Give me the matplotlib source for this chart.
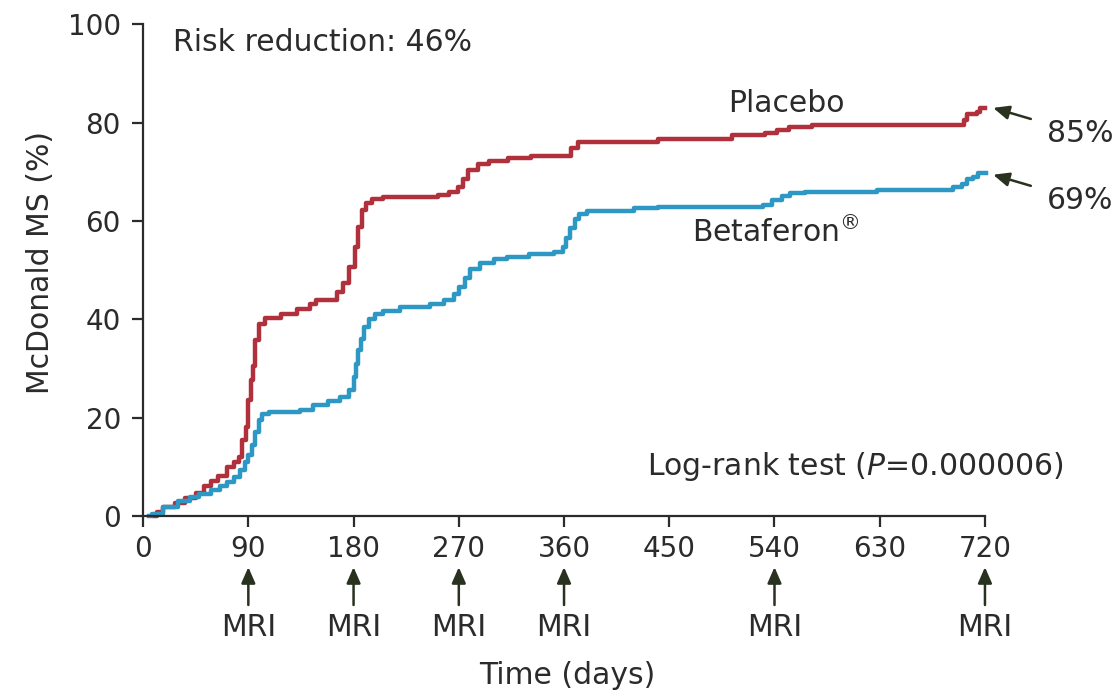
import matplotlib

matplotlib.use("Agg")
import matplotlib.pyplot as plt

# Kaplan-Meier style step data (day, % converted to McDonald MS)
placebo_days = [9, 12, 17, 27, 36, 45, 52, 58, 64, 72, 78, 82, 85, 88, 90, 92, 94, 96, 99,
                104, 118, 132, 143, 148, 166, 171, 176, 181, 184, 187, 191, 196, 205, 252,
                262, 269, 274, 278, 286, 296, 312, 332, 366, 372, 440, 504, 532, 542, 552,
                572, 702, 705, 713, 716, 720]
placebo_pct = [0.0, 0.8, 1.9, 2.6, 3.6, 4.6, 6.0, 7.2, 8.2, 10.0, 11.0, 12.0, 15.4, 18.0, 23.6,
               27.6, 30.5, 35.8, 39.0, 40.2, 41.0, 42.0, 43.2, 44.0, 45.6, 47.3, 50.7, 54.7,
               58.8, 62.2, 63.6, 64.5, 64.9, 65.3, 65.8, 67.0, 68.6, 70.3, 71.5, 72.2, 72.8,
               73.2, 74.8, 76.1, 76.6, 77.4, 77.8, 78.5, 79.1, 79.5, 80.6, 81.8, 82.2, 82.9,
               82.9]

beta_days = [5, 8, 17, 30, 40, 48, 58, 66, 72, 78, 83, 87, 90, 93, 96, 99, 102, 108, 134, 145,
             158, 168, 176, 180, 182, 184, 186, 189, 193, 198, 205, 220, 245, 257, 266, 270,
             275, 280, 288, 300, 311, 330, 351, 359, 362, 365, 369, 373, 380, 420, 440, 530,
             538, 546, 553, 566, 628, 693, 700, 705, 710, 714, 721]
beta_pct = [0.0, 0.5, 1.9, 3.0, 3.8, 4.4, 5.3, 6.0, 7.0, 8.0, 9.3, 11.0, 12.5, 14.5, 17.0, 19.5,
            20.8, 21.2, 21.5, 22.6, 23.4, 24.2, 25.6, 28.3, 31.0, 33.7, 36.0, 38.5, 40.0, 41.0,
            41.6, 42.5, 43.2, 43.9, 45.2, 46.5, 48.5, 50.2, 51.4, 52.2, 52.7, 53.2, 53.7, 54.7,
            56.5, 58.5, 60.5, 61.5, 62.0, 62.6, 62.9, 63.2, 64.2, 65.0, 65.6, 65.9, 66.3, 66.9,
            67.6, 68.6, 69.0, 69.7, 69.7]

x_ticks = [0, 90, 180, 270, 360, 450, 540, 630, 720]
y_ticks = [0, 20, 40, 60, 80, 100]
mri_days = [90, 180, 270, 360, 540, 720]

RED = "#b0303b"
BLUE = "#2e98c4"
INK = "#2b2b2b"
ARROW = "#28321f"
HEAD = "-|>,head_length=0.8,head_width=0.35"

fig = plt.figure(figsize=(11.18, 6.94), dpi=100)
ax = fig.add_axes([0.128, 0.2565, 0.753, 0.7085])

ax.step(placebo_days, placebo_pct, where="post", color=RED, lw=3.2, clip_on=False)
ax.step(beta_days, beta_pct, where="post", color=BLUE, lw=3.2, clip_on=False)

ax.set_xlim(0, 720)
ax.set_ylim(0, 100)
ax.set_xticks(x_ticks)
ax.set_yticks(y_ticks)
for s in ("top", "right"):
    ax.spines[s].set_visible(False)
for s in ("left", "bottom"):
    ax.spines[s].set_color(INK)
    ax.spines[s].set_linewidth(1.6)
ax.tick_params(axis="both", length=8, width=1.6, color=INK, labelsize=20, labelcolor=INK)
ax.tick_params(axis="x", pad=6)
ax.tick_params(axis="y", pad=8)

fig.text(0.036, 0.622, "McDonald MS (%)", rotation=90, ha="center", va="center",
         fontsize=21.5, color=INK)
fig.text(0.507, 0.027, "Time (days)", ha="center", va="center", fontsize=21.5, color=INK)

# annotations
ax.text(25.7, 96.3, "Risk reduction: 46%", ha="left", va="center", fontsize=21.5, color=INK)
ax.text(550, 83.9, "Placebo", ha="center", va="center", fontsize=21.5, color=INK)
ax.text(541, 57.7, "Betaferon$^{\\circledR}$", ha="center", va="center", fontsize=21.5,
        color=INK)
ax.text(431, 10.0, "Log-rank test ($P$=0.000006)", ha="left", va="center", fontsize=21.5,
        color=INK)

ax.annotate("85%", xy=(727, 83.0), xytext=(773, 77.8), ha="left", va="center",
            fontsize=21.5, color=INK, annotation_clip=False,
            arrowprops=dict(arrowstyle=HEAD, color=ARROW, lw=1.8, shrinkA=10, shrinkB=0,
                            mutation_scale=12))
ax.annotate("69%", xy=(727, 69.4), xytext=(773, 64.2), ha="left", va="center",
            fontsize=21.5, color=INK, annotation_clip=False,
            arrowprops=dict(arrowstyle=HEAD, color=ARROW, lw=1.8, shrinkA=10, shrinkB=0,
                            mutation_scale=12))

# MRI scan markers below the axis
for d in mri_days:
    ax.annotate("", xy=(d, -0.104), xytext=(d, -0.181), xycoords=("data", "axes fraction"),
                textcoords=("data", "axes fraction"), annotation_clip=False,
                arrowprops=dict(arrowstyle=HEAD, color=ARROW, lw=1.8, shrinkA=0, shrinkB=0,
                                mutation_scale=12))
    ax.text(d, -0.226, "MRI", transform=ax.get_xaxis_transform(), ha="center", va="center",
            fontsize=21.5, color=INK)

fig.savefig("out.png", dpi=100)
